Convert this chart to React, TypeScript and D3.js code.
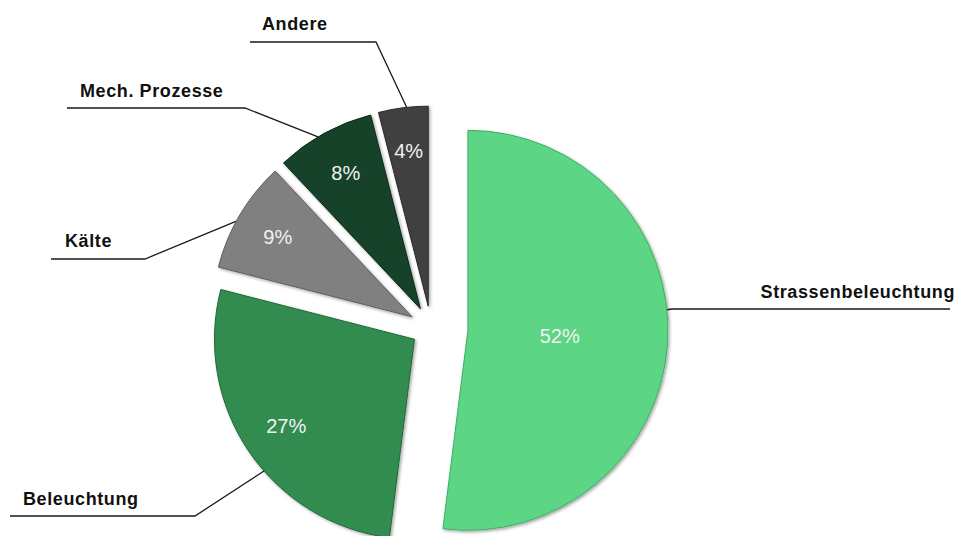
import React from "react";
import * as d3 from "d3";

const categories = ["Strassenbeleuchtung", "Beleuchtung", "Kälte", "Mech. Prozesse", "Andere"];
const values = [52, 27, 9, 8, 4];
const percentLabels = ["52%", "27%", "9%", "8%", "4%"];

// styles
const colors = ["#5cd584", "#318c50", "#808080", "#17432a", "#404040"];
const strokeColors = ["#3fae63", "#22683a", "#5e5e5e", "#0c2818", "#2a2a2a"];
const explode = [37, 20, 22, 22, 22];
const pctRadius = [92, 155, 156, 155, 156];

// label layout (annotation positions)
const labelLayout = [
  { angleOff: -9.5, elbow: [672, 309], end: [950, 309], tx: 955, ty: 298, anchor: "end" },
  { angleOff: -7, elbow: [195, 516], end: [10, 516], tx: 23, ty: 505, anchor: "start" },
  { angleOff: -2, elbow: [145, 259], end: [51, 259], tx: 65, ty: 247, anchor: "start" },
  { angleOff: -2, elbow: [245, 108], end: [67, 108], tx: 80, ty: 97, anchor: "start" },
  { angleOff: 1, elbow: [376, 42], end: [250, 42], tx: 262, ty: 30, anchor: "start" },
];

const W = 961;
const H = 536;
const CX = 431;
const CY = 328;
const R = 200;

export default function App() {
  const pie = d3
    .pie<number>()
    .sort(null)
    .value((d) => d)
    .startAngle(0)
    .endAngle(2 * Math.PI);
  const arcs = pie(values);
  const arc = d3.arc<d3.PieArcDatum<number>>().innerRadius(0).outerRadius(R);

  return (
    <svg
      width={W}
      height={H}
      style={{ position: "absolute", left: 0, top: 0, background: "#fff" }}
    >
      <defs>
        <filter id="sh" x="-20%" y="-20%" width="140%" height="140%">
          <feDropShadow dx="1.5" dy="1.5" stdDeviation="1.5" floodColor="#000" floodOpacity="0.35" />
        </filter>
      </defs>
      {arcs.map((a, i) => {
        const mid = (a.startAngle + a.endAngle) / 2;
        const ox = CX + explode[i] * Math.sin(mid);
        const oy = CY - explode[i] * Math.cos(mid);
        const lx = ox + pctRadius[i] * Math.sin(mid);
        const ly = oy - pctRadius[i] * Math.cos(mid);
        const L = labelLayout[i];
        const la = mid + (L.angleOff * Math.PI) / 180;
        const px = ox + R * Math.sin(la);
        const py = oy - R * Math.cos(la);
        return (
          <g key={categories[i]}>
            <path
              d={`M${px},${py}L${L.elbow[0]},${L.elbow[1]}L${L.end[0]},${L.end[1]}`}
              fill="none"
              stroke="#1a1a1a"
              strokeWidth={1.3}
            />
            <g transform={`translate(${ox},${oy})`}>
              <path
                d={arc(a) || ""}
                fill={colors[i]}
                stroke={strokeColors[i]}
                strokeWidth={1}
                filter="url(#sh)"
              />
            </g>
            <text
              x={lx}
              y={ly}
              textAnchor="middle"
              dominantBaseline="central"
              fill="#f2f2f2"
              style={{ fontFamily: "Arial, 'Liberation Sans', sans-serif", fontSize: 20 }}
            >
              {percentLabels[i]}
            </text>
            <text
              x={L.tx}
              y={L.ty}
              textAnchor={L.anchor as any}
              fill="#111"
              style={{
                fontFamily: "Arial, 'Liberation Sans', sans-serif",
                fontSize: 18,
                fontWeight: "bold",
                letterSpacing: "0.6px",
              }}
            >
              {categories[i]}
            </text>
          </g>
        );
      })}
    </svg>
  );
}
